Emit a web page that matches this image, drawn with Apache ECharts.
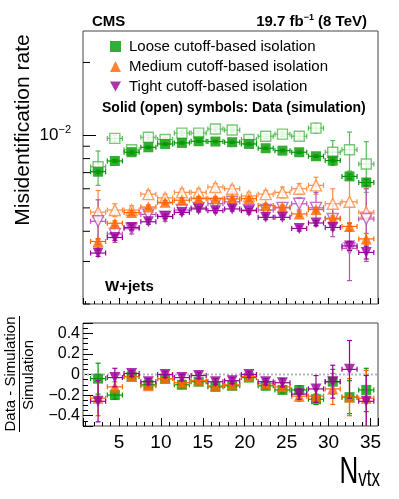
<!DOCTYPE html>
<html>
<head>
<meta charset="utf-8">
<script src="https://cdn.jsdelivr.net/npm/echarts@6/dist/echarts.min.js"></script>
<style>
html,body{margin:0;padding:0;background:#fff}
#main{width:399px;height:499px}
</style>
</head>
<body>
<div id="main"></div>
<script>
// N_vtx bin centres (bins of width 2)
var nvtx = [2.5, 4.5, 6.5, 8.5, 10.5, 12.5, 14.5, 16.5, 18.5, 20.5, 22.5, 24.5, 26.5, 28.5, 30.5, 32.5, 34.5];
var binHalf = 0.9;

// misidentification rate, data (solid) and simulation (open)
var looseData   = [0.00706, 0.00782, 0.0085, 0.00891, 0.0092, 0.00929, 0.00944, 0.00941, 0.00935, 0.0092, 0.00883, 0.00863, 0.0085, 0.00818, 0.00785, 0.00675, 0.00637];
var looseDataErr = [0.0001, 0.0001, 0.0001, 0.0001, 0.0001, 0.0001, 0.0001, 0.0001, 0.0001, 0.0001, 0.0001, 0.0001, 0.0001, 0.0001, 0.0001, 0.00015, 0.0002];
var looseSim    = [0.0074, 0.0097, 0.0087, 0.0098, 0.0096, 0.0102, 0.0102, 0.0106, 0.0105, 0.0096, 0.0099, 0.0101, 0.0099, 0.0107, 0.0085, 0.0087, 0.0076];
var looseSimErr = [0.0012, 0.0003, 0.0002, 0.0002, 0.0002, 0.0002, 0.0002, 0.0002, 0.0002, 0.0002, 0.0002, 0.0002, 0.0003, 0.0005, 0.001, 0.0016, 0.0018];

var mediumData   = [0.00363, 0.00432, 0.00478, 0.00504, 0.00527, 0.00538, 0.00546, 0.00546, 0.00545, 0.00546, 0.00511, 0.00503, 0.00472, 0.00492, 0.00453, 0.00419, 0.00372];
var mediumDataErr = [0.0001, 0.0001, 0.0001, 0.0001, 0.0001, 0.0001, 0.0001, 0.0001, 0.0001, 0.0001, 0.0001, 0.0001, 0.0001, 0.0001, 0.0001, 0.00015, 0.0002];
var mediumSim    = [0.0048, 0.0049, 0.0049, 0.0057, 0.0055, 0.0058, 0.0058, 0.0061, 0.006, 0.0056, 0.0057, 0.0058, 0.006, 0.0062, 0.0052, 0.0053, 0.0048];
var mediumSimErr = [0.0011, 0.0003, 0.0002, 0.0002, 0.0002, 0.0002, 0.0002, 0.0002, 0.0002, 0.0002, 0.0002, 0.0003, 0.0003, 0.0005, 0.0008, 0.0013, 0.0012];

var tightData   = [0.00325, 0.00377, 0.00415, 0.00438, 0.00461, 0.00479, 0.00495, 0.00487, 0.00495, 0.00487, 0.00457, 0.00457, 0.00411, 0.00433, 0.00415, 0.00348, 0.00327];
var tightDataErr = [0.0001, 0.0001, 0.0001, 0.0001, 0.0001, 0.0001, 0.0001, 0.0001, 0.0001, 0.0001, 0.0001, 0.0001, 0.0001, 0.0001, 0.0001, 0.00015, 0.0002];
var tightSim    = [0.0044, 0.0039, 0.0041, 0.0047, 0.0046, 0.0049, 0.005, 0.0052, 0.0053, 0.0049, 0.0049, 0.005, 0.0052, 0.005, 0.0045, 0.0034, 0.0045];
var tightSimErr = [0.001, 0.0003, 0.0002, 0.0002, 0.0002, 0.0002, 0.0002, 0.0002, 0.0002, 0.0002, 0.0002, 0.0002, 0.0003, 0.0008, 0.0007, 0.0009, 0.0015];

// (data - simulation) / simulation
var looseRatio     = [-0.04, -0.20, -0.02, -0.10, -0.04, -0.10, -0.07, -0.12, -0.11, -0.03, -0.11, -0.15, -0.15, -0.24, -0.07, -0.22, -0.15];
var looseRatioErr  = [0.15, 0.04, 0.03, 0.03, 0.03, 0.03, 0.03, 0.03, 0.03, 0.03, 0.03, 0.03, 0.04, 0.05, 0.12, 0.16, 0.21];
var mediumRatio    = [-0.23, -0.12, -0.02, -0.11, -0.04, -0.08, -0.06, -0.11, -0.10, -0.02, -0.09, -0.12, -0.21, -0.21, -0.14, -0.22, -0.23];
var mediumRatioErr = [0.17, 0.05, 0.03, 0.03, 0.03, 0.03, 0.03, 0.03, 0.03, 0.03, 0.03, 0.04, 0.05, 0.07, 0.15, 0.18, 0.27];
var tightRatio     = [-0.26, -0.03, 0.01, -0.07, 0.0, -0.03, -0.01, -0.07, -0.06, 0.0, -0.07, -0.08, -0.19, -0.14, -0.07, 0.05, -0.26];
var tightRatioErr  = [0.2, 0.09, 0.03, 0.03, 0.03, 0.03, 0.03, 0.03, 0.03, 0.03, 0.03, 0.04, 0.05, 0.13, 0.16, 0.28, 0.25];

// log axis minor ticks (2..9 x 10^n)
var logMinorTicks = [0.002, 0.003, 0.004, 0.005, 0.006, 0.007, 0.008, 0.009, 0.02];

var font = 'Liberation Sans, Arial, Helvetica, sans-serif';
var cLoose = '#009900', cLooseSim = '#55bb55';
var cMed = '#ff6600', cMedSim = '#ff8c40';
var cTight = '#990099', cTightSim = '#b650b6';
var downTri = 'path://M0,0L10,0L5,9Z';
var xMin = 0.7, xMax = 35.9;
var sqSize = 10, triSize = 11;

function errSeries(vals, errs, color, gi, z) {
	return {
		type: 'custom', xAxisIndex: gi, yAxisIndex: gi, z: z, silent: true, clip: true,
		animation: false,
		encode: {x: 0, y: 1},
		data: nvtx.map(function (x, i) { return [x, vals[i], errs[i]]; }),
		renderItem: function (params, api) {
			var x = api.value(0), y = api.value(1), e = api.value(2);
			var l = api.coord([x - binHalf, y]), r = api.coord([x + binHalf, y]);
			var t = api.coord([x, y + e]), b = api.coord([x, y - e]);
			var s = {stroke: color, lineWidth: 1.2};
			var cap = 2.5;
			function ln(x1, y1, x2, y2) {
				return {type: 'line', shape: {x1: x1, y1: y1, x2: x2, y2: y2}, style: s};
			}
			return {type: 'group', children: [
				ln(l[0], l[1], r[0], r[1]),
				ln(t[0], t[1], b[0], b[1]),
				ln(l[0], l[1] - cap, l[0], l[1] + cap),
				ln(r[0], r[1] - cap, r[0], r[1] + cap),
				ln(t[0] - cap, t[1], t[0] + cap, t[1]),
				ln(b[0] - cap, b[1], b[0] + cap, b[1])
			]};
		}
	};
}

function markSeries(name, vals, symbol, size, color, open, gi, z) {
	return {
		name: name, type: 'scatter', xAxisIndex: gi, yAxisIndex: gi, z: z, silent: true,
		symbol: symbol, symbolSize: size, animation: false,
		itemStyle: open ? {color: '#fff', borderColor: color, borderWidth: 1.4} : {color: color},
		emphasis: {disabled: true},
		data: nvtx.map(function (x, i) { return [x, vals[i]]; })
	};
}

var myChart = echarts.init(document.getElementById('main'), null, {renderer: 'canvas'});

var series = [
	// simulation (open)
	errSeries(looseSim, looseSimErr, cLooseSim, 0, 2),
	errSeries(mediumSim, mediumSimErr, cMedSim, 0, 2),
	errSeries(tightSim, tightSimErr, cTightSim, 0, 2),
	markSeries('Loose sim', looseSim, 'rect', sqSize, cLooseSim, true, 0, 3),
	markSeries('Medium sim', mediumSim, 'triangle', triSize, cMedSim, true, 0, 3),
	markSeries('Tight sim', tightSim, downTri, triSize, cTightSim, true, 0, 3),
	// data (solid)
	errSeries(looseData, looseDataErr, cLoose, 0, 4),
	errSeries(mediumData, mediumDataErr, cMed, 0, 4),
	errSeries(tightData, tightDataErr, cTight, 0, 4),
	markSeries('Loose cutoff-based isolation', looseData, 'rect', sqSize, cLoose, false, 0, 5),
	markSeries('Medium cutoff-based isolation', mediumData, 'triangle', triSize, cMed, false, 0, 5),
	markSeries('Tight cutoff-based isolation', tightData, downTri, triSize, cTight, false, 0, 5),
	// log minor ticks on the left edge
	{
		type: 'custom', xAxisIndex: 0, yAxisIndex: 0, z: 6, silent: true, animation: false,
		encode: {x: 0, y: 1},
		data: logMinorTicks.map(function (v) { return [xMin, v]; }),
		renderItem: function (params, api) {
			var p = api.coord([api.value(0), api.value(1)]);
			return {type: 'line', shape: {x1: p[0], y1: p[1], x2: p[0] + 7, y2: p[1]}, style: {stroke: '#000', lineWidth: 1}};
		}
	},
	// ratio panel: dotted reference at zero
	{
		type: 'line', xAxisIndex: 1, yAxisIndex: 1, z: 1, silent: true, animation: false,
		symbol: 'none', data: [[xMin, 0], [xMax, 0]],
		lineStyle: {color: '#b8b8b8', width: 2, type: [2, 2]}
	},
	errSeries(looseRatio, looseRatioErr, cLoose, 1, 2),
	markSeries('Loose ratio', looseRatio, 'rect', sqSize, cLoose, false, 1, 3),
	errSeries(mediumRatio, mediumRatioErr, cMed, 1, 4),
	markSeries('Medium ratio', mediumRatio, 'triangle', triSize, cMed, false, 1, 5),
	errSeries(tightRatio, tightRatioErr, cTight, 1, 6),
	markSeries('Tight ratio', tightRatio, downTri, triSize, cTight, false, 1, 7)
];

myChart.setOption({
	backgroundColor: '#fff',
	animation: false,
	textStyle: {fontFamily: font},
	grid: [
		{left: 83, top: 31, right: 21, height: 273, show: true, borderColor: '#444', borderWidth: 1, backgroundColor: 'transparent'},
		{left: 83, top: 323, right: 21, height: 103, show: true, borderColor: '#444', borderWidth: 1, backgroundColor: 'transparent'}
	],
	legend: {
		orient: 'vertical', left: 105, top: 34, itemWidth: 11, itemHeight: 11, itemGap: 5,
		selectedMode: false,
		textStyle: {fontSize: 15, color: '#000', fontFamily: font, padding: [0, 0, 0, 3]},
		data: ['Loose cutoff-based isolation', 'Medium cutoff-based isolation', 'Tight cutoff-based isolation']
	},
	xAxis: [
		{
			type: 'value', gridIndex: 0, min: xMin, max: xMax, splitNumber: 7, position: 'bottom',
			axisLine: {show: false, onZero: false}, splitLine: {show: false},
			axisLabel: {show: false},
			axisTick: {show: true, inside: true, length: 6, lineStyle: {color: '#000'}},
			minorTick: {show: true, splitNumber: 5, length: 3, lineStyle: {color: '#000'}}
		},
		{
			type: 'value', gridIndex: 1, min: xMin, max: xMax, splitNumber: 7, position: 'bottom',
			axisLine: {show: false, onZero: false}, splitLine: {show: false},
			axisLabel: {show: true, margin: 7, fontSize: 19, color: '#000', fontFamily: font, showMinLabel: false, showMaxLabel: false},
			axisTick: {show: true, inside: true, length: 8, lineStyle: {color: '#000'}},
			minorTick: {show: true, splitNumber: 5, length: 4, lineStyle: {color: '#000'}}
		}
	],
	yAxis: [
		{
			type: 'log', gridIndex: 0, logBase: 10, min: 0.002, max: 0.027,
			axisLine: {show: false, onZero: false}, splitLine: {show: false},
			axisTick: {show: true, inside: true, length: 13, lineStyle: {color: '#000'}},
			axisLabel: {
				show: true, margin: 12, color: '#000', fontSize: 17, fontFamily: font,
				showMinLabel: false, showMaxLabel: false,
				formatter: function (v) {
					var p = Math.log(v) / Math.LN10;
					if (Math.abs(p - Math.round(p)) > 1e-6) return '';
					return '10{sup|\u2212' + Math.abs(Math.round(p)) + '}';
				},
				rich: {sup: {fontSize: 11, color: '#000', fontFamily: font, verticalAlign: 'top', padding: [0, 0, 10, 0]}}
			}
		},
		{
			type: 'value', gridIndex: 1, min: -0.5, max: 0.5, splitNumber: 5,
			axisLine: {show: false, onZero: false}, splitLine: {show: false},
			axisTick: {show: true, inside: true, length: 10, lineStyle: {color: '#000'}},
			minorTick: {show: true, splitNumber: 4, length: 5, lineStyle: {color: '#000'}},
			axisLabel: {
				show: true, margin: 3, color: '#000', fontSize: 16, fontFamily: font,
				showMinLabel: false, showMaxLabel: false,
				formatter: function (v) {
					if (Math.abs(v) < 1e-9) return '0';
					return (v < 0 ? '\u2212' : '') + Math.abs(v).toFixed(1);
				}
			}
		}
	],
	graphic: [
		{type: 'text', left: 92, top: 14, style: {text: 'CMS', font: 'bold 15px ' + font, fill: '#000'}},
		{type: 'text', right: 32, top: 13, style: {
			text: '19.7 fb{sup|\u22121} (8 TeV)', font: 'bold 15px ' + font, fill: '#000',
			rich: {sup: {fontSize: 9, fontWeight: 'bold', fontFamily: font, verticalAlign: 'top', padding: [0, 0, 8, 0]}}
		}},
		{type: 'text', left: 102, top: 101, style: {text: 'Solid (open) symbols: Data (simulation)', font: 'bold 14px ' + font, fill: '#000'}},
		{type: 'text', left: 105, top: 279, style: {text: 'W+jets', font: 'bold 15px ' + font, fill: '#000'}},
		{type: 'text', x: 23, y: 130, rotation: Math.PI / 2, style: {
			text: 'Misidentification rate', font: '21px ' + font, fill: '#000', textAlign: 'center', textVerticalAlign: 'middle'
		}},
		{type: 'text', x: 18, y: 374, rotation: Math.PI / 2, style: {
			text: 'Data - Simulation', font: '15px ' + font, fill: '#000', textAlign: 'center', textVerticalAlign: 'bottom'
		}},
		{type: 'line', shape: {x1: 19.5, y1: 316, x2: 19.5, y2: 432}, style: {stroke: '#000', lineWidth: 1}},
		{type: 'text', x: 21, y: 375, rotation: Math.PI / 2, style: {
			text: 'Simulation', font: '15px ' + font, fill: '#000', textAlign: 'center', textVerticalAlign: 'top'
		}},
		{type: 'text', x: 380, y: 491, scaleY: 1.4, style: {
			text: 'N{sub|vtx}', font: '26px ' + font, fill: '#000', textAlign: 'right', textVerticalAlign: 'bottom',
			rich: {sub: {fontSize: 17, fontFamily: font, verticalAlign: 'bottom'}}
		}}
	],
	series: series
});
</script>
</body>
</html>
